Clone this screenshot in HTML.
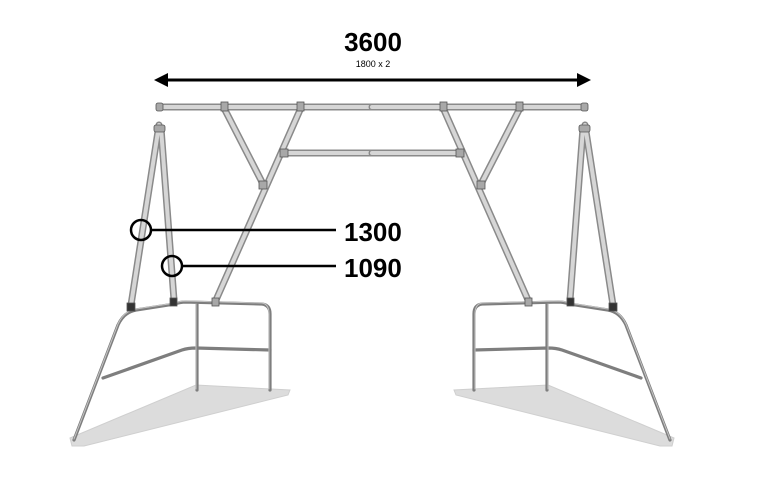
<!DOCTYPE html>
<html><head><style>
html,body{margin:0;padding:0;background:#fff;}
svg{display:block;}
text{font-family:"Liberation Sans",Arial,sans-serif;}
</style></head><body>
<svg width="781" height="498" viewBox="0 0 781 498" xmlns="http://www.w3.org/2000/svg">
<defs>
<g id="half">
  <polygon points="70,438 196,385 290,390 288,395 84,446 72,446" fill="#dcdcdc" stroke="#cfcfcf" stroke-width="1"/>
  <g fill="none" stroke="#7e7e7e" stroke-width="3.2" stroke-linecap="round">
    <path d="M74,440 L118,325 Q124,312 136,310 L175,304 Q180,302 186,302 L262,304 Q270,305 270,314 L270,390"/>
    <path d="M197,304 L197,390"/>
    <path d="M103,378 L182,350 Q188,348 196,348 L270,350"/>
  </g>
  <g fill="none" stroke="#c4c4c4" stroke-width="1" stroke-linecap="round">
    <path d="M74,439 L118,324 Q124,311 136,309 L175,303 Q180,301 186,301 L262,303 Q269,304 269,314 L269,389"/>
    <path d="M196,304 L196,389"/>
  </g>
  <g fill="none" stroke="#8a8a8a" stroke-width="7" stroke-linecap="round">
    <line x1="160" y1="107" x2="372" y2="107"/>
    <line x1="159" y1="125" x2="131" y2="305"/>
    <line x1="161" y1="128" x2="174" y2="300"/>
    <line x1="225" y1="110" x2="263" y2="184"/>
    <line x1="300" y1="110" x2="216" y2="300"/>
    <line x1="285" y1="153" x2="372" y2="153"/>
  </g>
  <g fill="none" stroke="#d6d6d6" stroke-width="4" stroke-linecap="round">
    <line x1="160" y1="107" x2="372" y2="107"/>
    <line x1="159" y1="125" x2="131" y2="305"/>
    <line x1="161" y1="128" x2="174" y2="300"/>
    <line x1="225" y1="110" x2="263" y2="184"/>
    <line x1="300" y1="110" x2="216" y2="300"/>
    <line x1="285" y1="153" x2="372" y2="153"/>
  </g>
  <g fill="#a8a8a8" stroke="#555" stroke-width="0.8">
    <rect x="156" y="103" width="7" height="8" rx="2"/>
    <rect x="154" y="125" width="11" height="7" rx="2"/>
    <rect x="221" y="102" width="7" height="9"/>
    <rect x="297" y="102" width="7" height="9"/>
    <rect x="280" y="149" width="8" height="8"/>
    <rect x="259" y="181" width="8" height="8"/>
    <rect x="127" y="303" width="8" height="8" fill="#333"/>
    <rect x="170" y="298" width="7" height="8" fill="#333"/>
    <rect x="212" y="298" width="7" height="8"/>
  </g>
</g>
</defs>
<use href="#half"/>
<use href="#half" transform="translate(744,0) scale(-1,1)"/>

<line x1="162" y1="80" x2="583" y2="80" stroke="#000" stroke-width="3"/>
<polygon points="154,80 168,73 168,87" fill="#000"/>
<polygon points="591,80 577,73 577,87" fill="#000"/>
<text x="373" y="51" font-size="26" font-weight="bold" text-anchor="middle">3600</text>
<text x="373" y="67" font-size="9" text-anchor="middle">1800 x 2</text>

<circle cx="141" cy="230" r="10" fill="none" stroke="#000" stroke-width="2.5"/>
<line x1="151" y1="230" x2="336" y2="230" stroke="#000" stroke-width="2.5"/>
<circle cx="172" cy="266" r="10" fill="none" stroke="#000" stroke-width="2.5"/>
<line x1="182" y1="266" x2="336" y2="266" stroke="#000" stroke-width="2.5"/>
<text x="344" y="241" font-size="26" font-weight="bold">1300</text>
<text x="344" y="277" font-size="26" font-weight="bold">1090</text>
</svg>
</body></html>
